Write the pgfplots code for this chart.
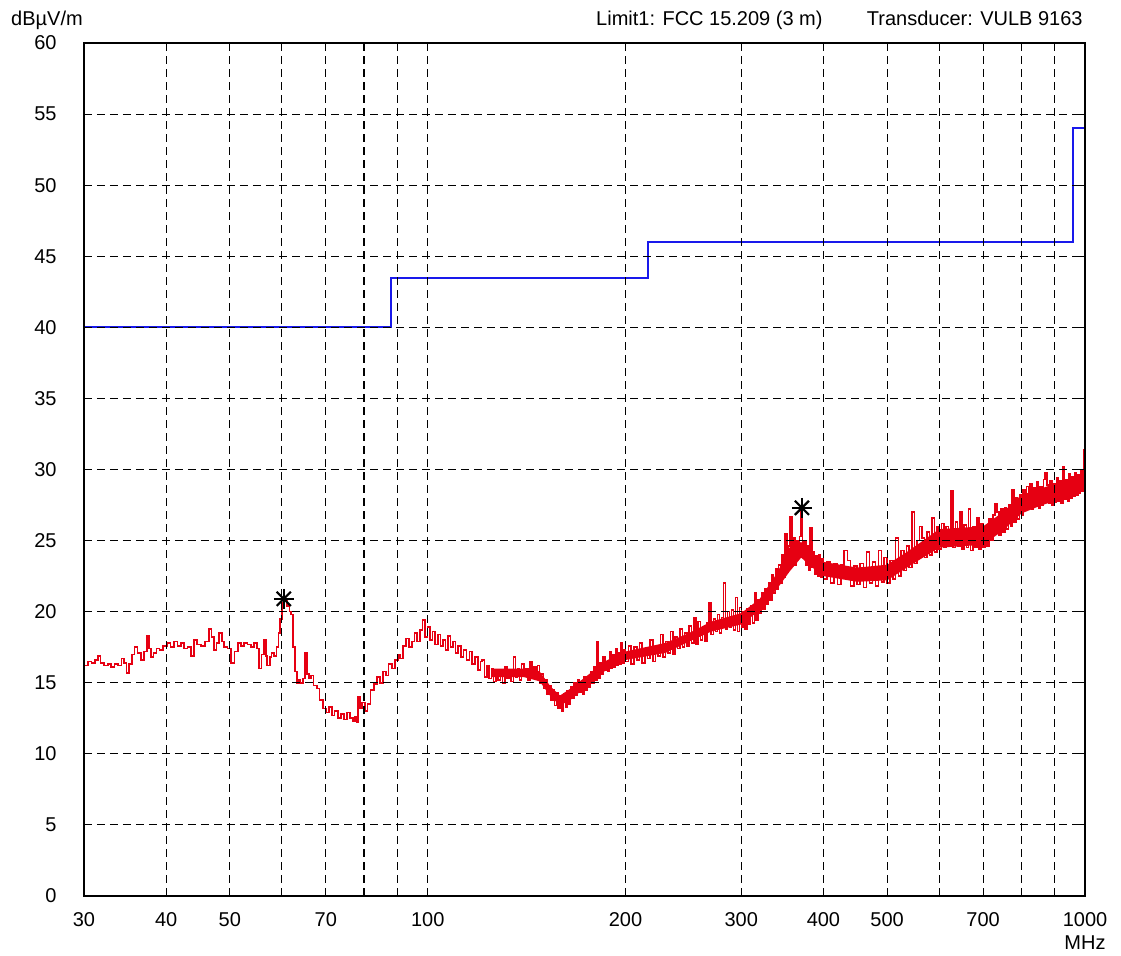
\documentclass[border=0pt]{standalone}
\usepackage{fontspec}
\setmainfont{Liberation Sans}
\usepackage{pgfplots}
\pgfplotsset{compat=1.18}
\usepgfplotslibrary{fillbetween}
\usepackage{pgfplotstable}

\definecolor{tracered}{RGB}{230,0,18}
\definecolor{limitblue}{RGB}{25,25,235}

\pgfplotstableread{
f v
30.0 16.2
30.4 16.5
30.8 16.4
31.2 16.6
31.5 16.9
31.8 16.4
32.2 16.2
32.6 16.3
33.0 16.1
33.4 16.3
33.8 16.2
34.2 16.7
34.5 16.4
34.8 15.7
35.1 16.3
35.5 17.0
35.8 17.5
36.2 17.1
36.6 16.6
37.0 17.2
37.4 18.3
37.7 17.4
37.9 16.8
38.3 17.1
38.7 17.4
39.1 17.3
39.6 17.6
40.1 17.8
40.6 17.5
41.1 17.9
41.6 17.6
42.1 17.8
42.6 17.4
43.1 17.5
43.6 16.9
44.1 18.0
44.6 17.7
45.2 17.6
45.8 17.9
46.5 18.8
46.9 18.2
47.3 17.3
47.7 17.8
48.1 18.5
48.6 17.9
49.0 17.5
49.6 17.4
50.2 16.4
50.8 17.2
51.4 17.8
52.0 17.6
52.6 17.8
53.2 17.7
53.8 17.5
54.4 17.8
55.0 17.4
55.4 16.0
55.9 17.0
56.4 18.0
56.7 16.9
57.0 16.2
57.5 16.8
57.9 17.1
58.4 16.9
58.9 17.5
59.3 18.5
59.6 19.5
60.0 20.6
60.4 20.9
61.1 20.4
61.6 20.0
62.0 19.8
62.4 17.5
62.8 15.8
63.2 15.0
63.6 15.2
64.0 15.0
64.6 15.3
65.1 17.1
65.5 15.6
66.0 15.3
66.5 15.5
67.0 14.8
67.8 14.6
68.5 13.8
69.3 13.2
70.0 12.9
70.8 13.3
71.5 12.7
72.2 13.0
73.0 12.5
73.8 12.8
74.6 12.4
75.4 12.9
76.2 12.5
77.0 12.3
77.6 12.6
78.1 12.2
78.4 14.0
78.9 13.2
79.5 13.6
80.2 13.0
81.0 13.5
81.9 14.5
82.8 14.9
83.7 15.4
84.6 15.0
85.5 15.8
86.4 15.5
87.2 16.3
88.2 16.0
89.2 16.6
90.1 17.0
90.8 16.7
91.8 17.6
92.7 18.1
93.7 17.5
94.6 17.9
95.5 18.5
96.4 17.9
97.3 18.7
98.2 19.4
99.0 18.2
100.0 18.9
100.8 18.0
101.7 18.6
102.6 17.7
103.6 18.4
104.6 17.6
105.5 18.0
106.4 17.3
107.3 18.3
108.3 17.5
109.2 17.9
110.2 17.1
111.2 17.6
112.3 16.8
113.4 17.3
114.6 16.6
115.7 17.2
116.8 16.3
118.0 16.8
119.2 15.9
120.4 16.5
121 16.6
122 15.4
123 16.2
124 15.3
125 16.0
126 15.1
127 15.8
128 15.2
129 15.9
130 15.0
131 16.1
132 15.3
133 15.8
134 15.1
135 16.8
136 15.4
137 16.0
138 15.2
139 16.3
140 15.5
141 16.0
142 15.2
143 16.5
144 15.4
145 16.1
146 15.3
147 16.2
148 15.0
149 15.6
150 14.6
151 15.2
152 14.2
153 14.8
154 13.8
155 14.5
156 13.4
157 14.3
158 13.2
159 14.1
160 13.0
161 14.2
162 13.3
163 14.4
164 13.5
165 14.7
166 13.9
167 15.0
168 14.1
169 15.2
170 14.3
171 15.0
172 14.2
173 15.4
174 14.5
175 15.3
176 14.7
177 15.8
178 15.0
179 16.1
180 15.2
181 17.9
182 15.3
183 16.4
184 15.6
185 16.8
186 15.9
187 16.5
188 15.8
189 17.2
190 16.0
191 17.0
192 16.1
193 17.4
194 16.2
195 17.1
196 16.3
197 17.8
198 16.4
199 17.3
200 16.5
202 17.6
204 16.3
206 17.5
208 16.6
210 17.8
212 16.4
214 17.4
216 16.7
218 18.0
220 16.5
222 17.6
224 16.9
226 18.4
228 16.8
230 17.9
232 17.1
234 18.6
236 17.0
238 18.2
240 17.4
242 18.8
244 17.5
246 18.5
248 17.6
250 19.0
252 17.8
254 19.6
256 17.7
258 19.3
260 18.0
262 18.9
264 17.9
266 19.2
268 20.6
270 18.4
272 19.5
274 18.6
276 19.8
278 18.5
280 19.6
282 22.0
284 18.8
286 20.0
288 18.9
290 20.1
292 18.7
294 21.0
296 18.6
298 20.3
300 18.9
302 20.0
304 18.8
306 20.2
308 19.1
310 20.4
312 19.2
314 21.3
316 19.4
318 20.8
320 19.9
322 21.3
324 20.2
326 21.6
328 20.5
330 22.0
332 20.8
334 22.6
336 21.3
338 23.0
340 21.6
342 23.3
344 22.0
346 24.0
348 22.4
350 25.5
352 22.8
354 24.6
356 26.7
358 23.6
360 25.2
362 23.3
364 25.0
366 23.8
368 25.3
370 27.3
372 24.0
374 24.9
376 23.3
378 24.6
380 22.9
382 25.9
384 23.1
386 24.2
388 22.6
390 23.9
392 22.5
394 24.0
396 22.4
398 23.7
400 22.3
405 23.5
410 22.0
415 23.4
420 21.9
425 23.3
430 24.3
435 23.6
440 21.8
445 23.2
450 21.9
455 23.4
460 21.7
465 24.2
470 22.0
475 23.5
480 21.8
485 24.3
490 22.1
495 23.8
500 22.0
505 23.6
510 22.3
515 25.2
520 22.5
525 24.3
530 22.9
535 24.6
540 23.1
545 27.0
550 23.4
555 25.0
560 26.0
565 25.2
570 23.8
575 25.6
580 24.0
585 26.6
590 24.2
595 26.0
600 24.4
605 26.2
610 24.5
615 26.0
620 24.6
625 28.5
630 24.5
635 26.3
640 24.6
645 27.0
650 24.4
655 26.1
660 24.5
665 27.2
670 24.3
675 26.0
680 24.5
685 26.6
690 24.4
695 26.2
700 24.5
705 26.0
710 24.6
715 26.5
720 25.0
725 26.8
730 27.6
735 27.0
740 25.4
745 27.2
750 25.6
755 27.3
760 25.8
765 27.5
770 26.0
775 28.6
780 26.3
785 28.0
790 26.5
795 28.2
800 26.8
805 28.6
810 27.2
815 28.8
820 27.3
825 29.0
830 27.2
835 28.7
840 27.4
845 29.1
850 27.3
855 28.8
860 27.5
865 29.3
870 29.8
875 28.9
880 27.6
885 29.2
890 27.5
895 29.0
900 27.7
905 29.4
910 27.8
915 29.2
920 27.6
925 30.2
930 27.9
935 29.3
940 27.8
945 29.7
950 28.0
955 29.5
960 28.1
965 29.8
970 28.2
975 29.6
980 28.3
985 30.0
990 28.5
995 31.4
1000 29.0
}\trace

% solid core of the dense part of the trace (lower and upper edge)
\pgfplotstableread{
f lo hi
125 15.4 16.0
140 15.4 16.0
148 15.1 15.8
154 14.0 14.7
159 13.4 14.1
165 13.8 14.6
176 14.9 15.6
184 15.7 16.4
200 16.6 17.2
230 17.1 17.8
250 17.9 18.5
270 18.6 19.3
300 19.1 19.9
320 20.1 20.9
340 21.6 22.7
355 22.8 24.5
370 23.8 24.9
385 23.1 24.1
400 22.5 23.5
450 22.1 23.1
500 22.2 23.3
540 23.2 24.3
600 24.5 25.8
700 24.7 26.0
750 25.7 27.0
800 26.9 28.2
850 27.4 28.6
900 27.8 29.0
1000 28.7 29.5
}\band

\pgfplotstableread{
f v
30 40
88 40
88 43.5
216 43.5
216 46
960 46
960 54
1000 54
}\limitline

\begin{document}
\fontsize{10pt}{12pt}\selectfont
\begin{tikzpicture}
\begin{axis}[
  scale only axis,
  width=500.5pt, height=426.5pt,
  xmode=log, xmin=30, xmax=1000, ymin=0, ymax=60,
  xtick={30,40,50,60,70,80,90,100,200,300,400,500,600,700,800,900,1000},
  xticklabels={30,40,50,,70,,,100,200,300,400,500,,700,,,1000},
  ytick={0,5,...,60},
  grid=major,
  major grid style={black, line width=0.55pt, dash pattern=on 4pt off 2.5pt},
  axis line style={black, line width=1.1pt},
  tick style={black, line width=0.55pt},
  major tick length=3pt,
  tick align=inside,
  xticklabel style={anchor=north, inner sep=0pt, yshift=-8pt},
  yticklabel style={anchor=east, inner sep=0pt, xshift=-13.5pt},
  /pgf/number format/assume math mode=true,
  axis on top,
  clip=true,
]
\addplot[name path=bandlo, draw=none, forget plot] table[x=f, y=lo] {\band};
\addplot[name path=bandhi, draw=none, forget plot] table[x=f, y=hi] {\band};
\addplot[tracered, draw=none] fill between[of=bandlo and bandhi];
\addplot[const plot, color=tracered, line width=0.8pt] table[x=f, y=v] {\trace};
\addplot[const plot, color=limitblue, line width=1pt] table[x=f, y=v] {\limitline};
\addplot[only marks, mark=+, mark size=5pt, black, mark options={line width=1.1pt}] coordinates {(60.4,20.9) (371,27.3)};
\addplot[only marks, mark=x, mark size=5pt, black, mark options={line width=1.1pt}] coordinates {(60.4,20.9) (371,27.3)};
\coordinate (bl) at (rel axis cs:0,0);
\end{axis}
\node[anchor=base, inner sep=0pt] at ([shift={(-18.5pt,435pt)}]bl) {dBµV/m};
\node[anchor=base east, inner sep=0pt] at ([shift={(369.5pt,435pt)}]bl) {Limit1: FCC 15.209 (3 m)};
\node[anchor=base east, inner sep=0pt] at ([shift={(499.5pt,435pt)}]bl) {Transducer: VULB 9163};
\node[anchor=north, inner sep=0pt] at ([shift={(500.5pt,-19.5pt)}]bl) {MHz};
\pgfresetboundingbox
\path[use as bounding box] ([shift={(-42pt,-30pt)}]bl) rectangle ([shift={(518.5pt,448pt)}]bl);
\end{tikzpicture}
\end{document}
